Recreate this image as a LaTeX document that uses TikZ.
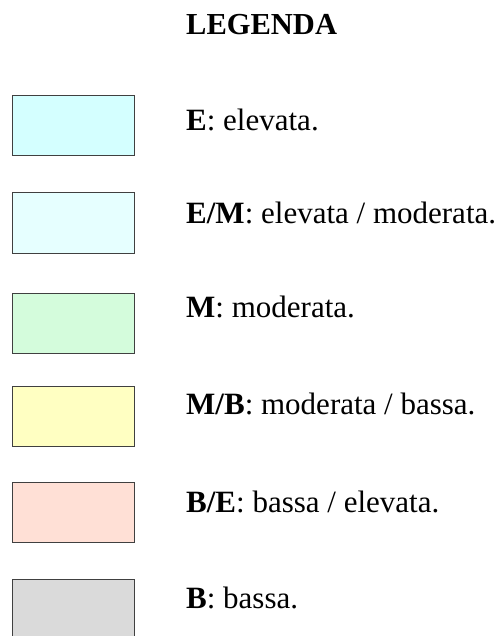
\documentclass[tikz,border=0pt]{standalone}
\usepackage{fontspec}
\setmainfont{Liberation Serif}
\usetikzlibrary{shadows}
\definecolor{colE}{HTML}{D4FFFF}
\definecolor{colEM}{HTML}{E6FFFF}
\definecolor{colM}{HTML}{D4FCDC}
\definecolor{colMB}{HTML}{FFFFC2}
\definecolor{colBE}{HTML}{FFE0D6}
\definecolor{colB}{HTML}{DADADA}
\definecolor{boxline}{HTML}{404040}
\tikzset{
  x=1pt, y=1pt,
  swatch/.style={draw=boxline, line width=0.9pt, anchor=north west, inner sep=0pt,
    minimum width=122pt, minimum height=60pt,
    drop shadow={shadow xshift=0.8pt, shadow yshift=-0.8pt, fill=black!35, opacity=1}},
  legtext/.style={anchor=base west, inner sep=0pt, font=\fontsize{31}{37}\selectfont},
}
\begin{document}
\begin{tikzpicture}
\useasboundingbox (0,0) rectangle (503,-636);
\node[legtext, font=\fontsize{30.5}{37}\selectfont\bfseries] (title) at (186,-35) {LEGENDA};

\node[swatch, fill=colE]  (b1) at (12,-95) {};
\node[swatch, fill=colEM] (b2) at (12,-192.5) {};
\node[swatch, fill=colM]  (b3) at (12,-293) {};
\node[swatch, fill=colMB] (b4) at (12,-386) {};
\node[swatch, fill=colBE] (b5) at (12,-482) {};
\node[swatch, fill=colB]  (b6) at (12,-579) {};

\node[legtext] (t1) at (186,-131) {\textbf{E}: elevata.};
\node[legtext] (t2) at (186,-223) {\textbf{E/M}: elevata / moderata.};
\node[legtext] (t3) at (186,-317) {\textbf{M}: moderata.};
\node[legtext] (t4) at (186,-414) {\textbf{M/B}: moderata / bassa.};
\node[legtext] (t5) at (186,-512) {\textbf{B/E}: bassa / elevata.};
\node[legtext] (t6) at (186,-608) {\textbf{B}: bassa.};
\end{tikzpicture}
\end{document}
